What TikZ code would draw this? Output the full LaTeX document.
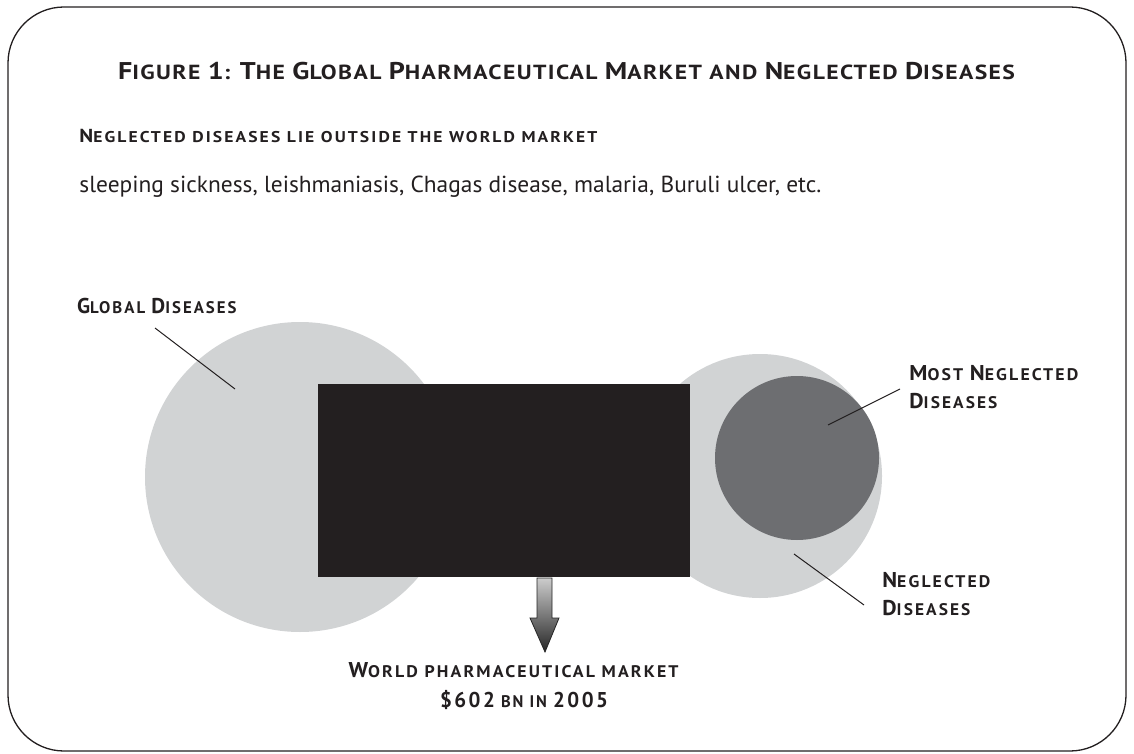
\documentclass[tikz,border=0pt]{standalone}
\usepackage{fontspec}
\setmainfont{PT Sans}
\newfontfamily\scf{PT Sans}[LetterSpace=12]
\newfontfamily\tif{PT Sans}[LetterSpace=6]
\definecolor{lightg}{HTML}{D1D3D4}
\definecolor{darkg}{HTML}{6D6E71}
\definecolor{boxblk}{HTML}{231F20}
\definecolor{txt}{HTML}{231F20}
\newcommand\upc[1]{{\fontsize{\upsz}{\upsz}\selectfont #1}}
\def\upsz{10pt}
\newcommand\fitto[2]{\sbox0{#2}\pgfmathsetmacro\fitf{#1/\the\wd0}\scalebox{\fitf}[1]{\usebox0}}
\begin{document}
\begin{tikzpicture}[x=0.5pt,y=-0.5pt,
  title/.style={text=txt, inner sep=0pt, font=\tif\bfseries\fontsize{10.2}{12}\selectfont\def\upsz{12.1pt}},
  subt/.style={text=txt, inner sep=0pt, font=\scf\bfseries\fontsize{7.8}{9}\selectfont\def\upsz{9.4pt}},
  body/.style={text=txt, inner sep=0pt, font=\fontsize{11.6}{13}\selectfont},
  lab/.style={text=txt, inner sep=0pt, font=\scf\bfseries\fontsize{8.4}{10}\selectfont\def\upsz{10.7pt}},
  leader/.style={draw=txt, line width=0.5pt},
  disc/.style={circle, inner sep=0pt, draw=none}
]
\useasboundingbox (0,0) rectangle (1134,754);
\draw[draw=txt, line width=0.65pt, rounded corners=28pt] (8,7) rectangle (1126,751);

% title and texts
\node[title, anchor=base] (title) at (566.5,80) {\fitto{448.5pt}{\upc{F}IGURE \upc{1}: \upc{T}HE \upc{G}LOBAL \upc{P}HARMACEUTICAL \upc{M}ARKET AND \upc{N}EGLECTED \upc{D}ISEASES}};
\node[subt, anchor=base west] (sub) at (79,143) {\fitto{259pt}{\upc{N}EGLECTED DISEASES LIE OUTSIDE THE WORLD MARKET}};
\node[body, anchor=base west] (list) at (79,193) {\fitto{371pt}{sleeping sickness, leishmaniasis, Chagas disease, malaria, Buruli ulcer, etc.}};

% shapes
\node[disc, fill=lightg, minimum size=155pt] (global) at (300,477) {};
\node[disc, fill=lightg, minimum size=122pt] (negl) at (760,476) {};
\node[disc, fill=darkg, minimum size=82pt] (most) at (797,458) {};
\node[fill=boxblk, inner sep=0pt, minimum width=186pt, minimum height=96.5pt] (market) at (504,480.5) {};

% arrow
\shade[top color=gray!40, bottom color=black!85, draw=black!85, line width=0.4pt]
  (537,578) -- (552,578) -- (552,618) -- (559,618) -- (545,652) -- (530,618) -- (537,618) -- cycle;

% labels
\node[lab, anchor=base east] (gl) at (237,313) {\upc{G}LOBAL \upc{D}ISEASES};
\node[lab, anchor=base west] (mn1) at (909,380) {\fitto{84.5pt}{\upc{M}OST \upc{N}EGLECTED}};
\node[lab, anchor=base west] (mn2) at (909,408) {\fitto{44pt}{\upc{D}ISEASES}};
\node[lab, anchor=base west] (nl1) at (882,587) {\fitto{54pt}{\upc{N}EGLECTED}};
\node[lab, anchor=base west] (nl2) at (882,615) {\fitto{44pt}{\upc{D}ISEASES}};
\node[lab, anchor=base east] (mk1) at (679,677) {\fitto{165pt}{\upc{W}ORLD PHARMACEUTICAL MARKET}};
\node[lab, anchor=base] (mk2) at (524,707) {\fitto{84pt}{\upc{\$602} BN IN \upc{2005}}};

% leaders
\coordinate (gp) at (235,389);
\coordinate (gs) at (155,328);
\coordinate (mp) at (828,425);
\coordinate (ms) at (900,389);
\coordinate (np) at (794,554);
\coordinate (ns) at (864,605);
\draw[leader] (gs) -- (gp);
\draw[leader] (ms) -- (mp);
\draw[leader] (ns) -- (np);
\end{tikzpicture}
\end{document}
